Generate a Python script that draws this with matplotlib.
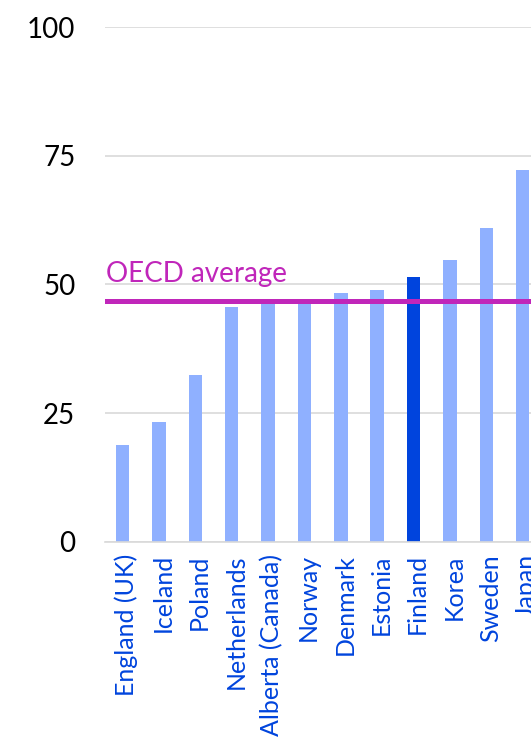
import matplotlib
matplotlib.use("Agg")
import matplotlib.pyplot as plt
import matplotlib.transforms as mtransforms

plt.rcParams['font.family'] = ['Lato', 'DejaVu Sans']

countries = ["England (UK)", "Iceland", "Poland", "Netherlands", "Alberta (Canada)",
             "Norway", "Denmark", "Estonia", "Finland", "Korea", "Sweden", "Japan"]
values = [18.7, 23.3, 32.4, 45.6, 46.9, 47.0, 48.3, 48.9, 51.4, 54.7, 60.9, 72.2]
highlight = "Finland"
oecd_average = 46.8
yticks = [0, 25, 50, 75, 100]

light_blue = "#8FB0FF"
dark_blue = "#0044DD"
magenta = "#C026BA"
grid_gray = "#D9D9D9"

W, H = 531, 740
fig = plt.figure(figsize=(W / 100, H / 100), dpi=100)

# axes run past the right edge of the figure, so the last column is cut off
slot_px = 36.36
left_px, zero_px, top_px = 104.5, 541.7, 27.0
n_slots = len(countries) + 1
ax = fig.add_axes([left_px / W, (H - zero_px) / H,
                   n_slots * slot_px / W, (zero_px - top_px) / H])

x = list(range(len(countries)))
colors = [dark_blue if c == highlight else light_blue for c in countries]
ax.bar(x, values, width=0.37, color=colors, zorder=2)

ax.axhline(oecd_average, color=magenta, linewidth=3.6, zorder=3)
ax.text(-0.46, 50.45, "OECD average", color=magenta, fontsize=20,
        ha="left", va="baseline", zorder=4)

ax.set_xlim(-0.5, n_slots - 0.5)
ax.set_ylim(0, 100)
ax.set_yticks(yticks)
ax.set_yticklabels([str(v) for v in yticks], fontsize=20, color="black")
ax.yaxis.grid(True, color=grid_gray, linewidth=1.2, zorder=0)
ax.set_axisbelow(True)

ax.set_xticks(x)
ax.set_xticklabels(countries, rotation=90, fontsize=18, color=dark_blue,
                   ha="center", va="top")
ax.tick_params(axis="both", length=0)
ax.tick_params(axis="y", pad=21)
ax.tick_params(axis="x", pad=9)

# nudge the rotated category labels a little to the right
shift = mtransforms.ScaledTranslation(4 / 100, 0, fig.dpi_scale_trans)
for lbl in ax.get_xticklabels():
    lbl.set_transform(lbl.get_transform() + shift)

for s in ["top", "right", "left"]:
    ax.spines[s].set_visible(False)
ax.spines["bottom"].set_color(grid_gray)
ax.spines["bottom"].set_linewidth(1.2)

fig.savefig("out.png", dpi=100)
